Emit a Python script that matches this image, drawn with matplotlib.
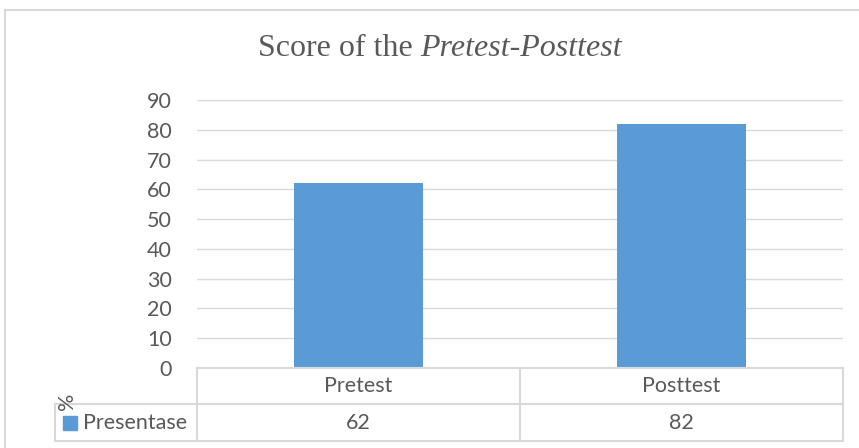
import matplotlib.pyplot as plt
from matplotlib.patches import Rectangle
from matplotlib.lines import Line2D

categories = ["Pretest", "Posttest"]
values = [62, 82]
series_name = "Presentase"
y_ticks = [0, 10, 20, 30, 40, 50, 60, 70, 80, 90]

W, H = 859, 448
blue = "#5B9BD5"
grey = "#595959"
line_grey = "#D9D9D9"
sans = ["Lato", "DejaVu Sans"]
fs = 15.5

fig = plt.figure(figsize=(W / 100, H / 100), dpi=100)


def fx(x):
    return x / W


def fy(y):
    return 1 - y / H


# chart border
fig.patches.append(Rectangle((fx(5), fy(470)), fx(880) - fx(5), fy(10) - fy(470),
                             transform=fig.transFigure, fill=False,
                             edgecolor=line_grey, linewidth=1.5))

# plot area
left, right, top, bottom = 197, 843, 100, 368
ax = fig.add_axes([fx(left), fy(bottom), fx(right) - fx(left), fy(top) - fy(bottom)])
x = range(len(categories))
ax.bar(x, values, width=0.4, color=blue, zorder=3)
ax.set_xlim(-0.5, len(categories) - 0.5)
ax.set_ylim(0, 90)
ax.set_yticks(y_ticks)
ax.set_yticklabels([str(t) for t in y_ticks], fontfamily=sans, fontsize=fs, color=grey)
ax.tick_params(axis="y", length=0, pad=18)
ax.set_xticks([])
ax.grid(axis="y", color=line_grey, linewidth=1, zorder=0)
for s in ax.spines.values():
    s.set_visible(False)

# data table
row1, row2, row3 = 368, 404, 441
col_left = 55
col_edges = [left, 520, right]
lines = [
    ((left, right), (row1, row1)),
    ((col_left, right), (row2, row2)),
    ((col_left, right), (row3, row3)),
    ((col_left, col_left), (row2, row3)),
]
for c in col_edges:
    lines.append(((c, c), (row1, row3)))
for xs, ys in lines:
    fig.add_artist(Line2D([fx(v) for v in xs], [fy(v) for v in ys],
                          color=line_grey, linewidth=1.5))

for i, (cat, val) in enumerate(zip(categories, values)):
    cx = (col_edges[i] + col_edges[i + 1]) / 2
    fig.text(fx(cx), fy((row1 + row2) / 2), cat, ha="center", va="center",
             fontfamily=sans, fontsize=fs, color=grey)
    fig.text(fx(cx), fy((row2 + row3) / 2), str(val), ha="center", va="center",
             fontfamily=sans, fontsize=fs, color=grey)

fig.patches.append(Rectangle((fx(63), fy(430)), fx(77) - fx(63), fy(416) - fy(430),
                             transform=fig.transFigure, color=blue))
fig.text(fx(83), fy((row2 + row3) / 2), series_name, ha="left", va="center",
         fontfamily=sans, fontsize=fs, color=grey)
fig.text(fx(67), fy(401), "%", ha="center", va="center", rotation=90,
         fontfamily=sans, fontsize=fs, color=grey)

# title with italic part
renderer = fig.canvas.get_renderer()
t1 = fig.text(0, fy(49), "Score of the ", ha="left", va="center",
              fontfamily="Liberation Serif", fontsize=23, color=grey)
t2 = fig.text(0, fy(49), "Pretest-Posttest", ha="left", va="center",
              fontfamily="Liberation Serif", fontstyle="italic", fontsize=23, color=grey)
w1 = t1.get_window_extent(renderer).width
w2 = t2.get_window_extent(renderer).width
start = 440 - (w1 + w2) / 2
t1.set_x(fx(start))
t2.set_x(fx(start + w1))

fig.savefig("out.png", dpi=100)
